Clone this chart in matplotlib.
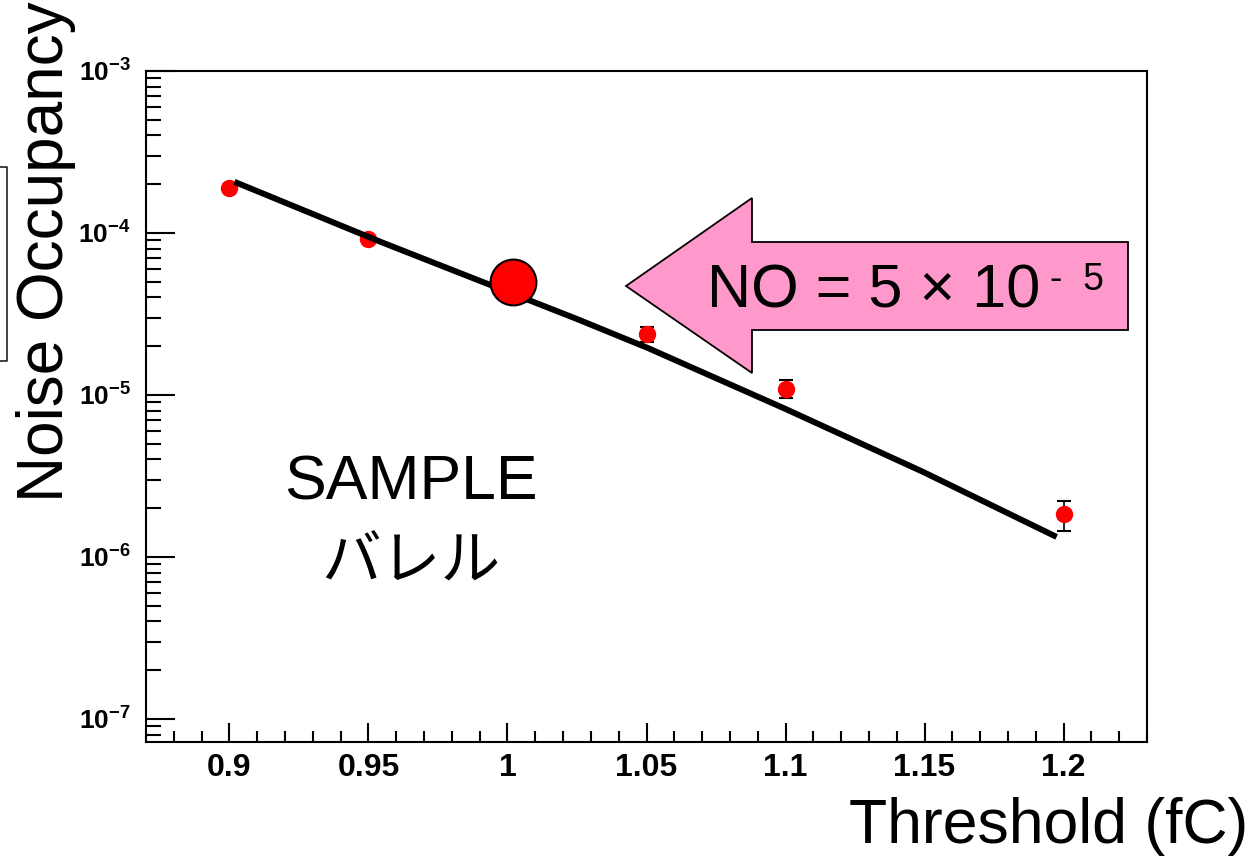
import numpy as np
import matplotlib
matplotlib.use("Agg")
import matplotlib.pyplot as plt
from matplotlib.patches import Polygon
from matplotlib.lines import Line2D
from matplotlib.ticker import FixedLocator, FixedFormatter, LogLocator, MultipleLocator

plt.rcParams.update({
    "font.family": ["Liberation Sans", "DejaVu Sans"],
    "mathtext.fontset": "custom",
    "mathtext.rm": "Liberation Sans",
    "mathtext.bf": "Liberation Sans:bold",
})

PINK, RED = "#FF99CC", "#FF0000"

# measured noise occupancy vs threshold
thr = [0.90, 0.95, 1.05, 1.10, 1.20]
occ = [1.90e-4, 9.18e-5, 2.38e-5, 1.09e-5, 1.84e-6]
occ_lo = [1.82e-4, 8.90e-5, 2.12e-5, 9.58e-6, 1.45e-6]
occ_hi = [1.98e-4, 9.50e-5, 2.63e-5, 1.24e-5, 2.22e-6]

# fit curve
fit_x = [0.9018, 0.9545, 1.0251, 1.0505, 1.100, 1.1495, 1.1975]
fit_y = [2.07e-4, 8.80e-5, 2.94e-5, 1.95e-5, 8.2e-6, 3.35e-6, 1.33e-6]

# operating point
op_x, op_y = 1.002, 5.0e-5

xticks = [0.9, 0.95, 1.0, 1.05, 1.1, 1.15, 1.2]
xticklabels = ["0.9", "0.95", "1", "1.05", "1.1", "1.15", "1.2"]
yticks = [1e-7, 1e-6, 1e-5, 1e-4, 1e-3]
yticklabels = [r"$\mathbf{10^{-7}}$", r"$\mathbf{10^{-6}}$", r"$\mathbf{10^{-5}}$",
               r"$\mathbf{10^{-4}}$", r"$\mathbf{10^{-3}}$"]

W, H = 1258, 857
fig = plt.figure(figsize=(W / 100, H / 100), dpi=100)
ax = fig.add_axes([146 / W, 1 - 742 / H, (1147 - 146) / W, (742 - 71) / H])
ax.set_yscale("log")
ax.set_xlim(0.87, 1.23)
ax.set_ylim(10 ** -7.142, 1e-3)

# fit line
ax.plot(fit_x, fit_y, color="black", lw=4.3, solid_capstyle="butt",
        solid_joinstyle="round", zorder=3)
# data with errors
yerr = [np.array(occ) - np.array(occ_lo), np.array(occ_hi) - np.array(occ)]
ax.errorbar(thr, occ, yerr=yerr, fmt="o", color=RED, ms=11.5, mec=RED,
            ecolor="black", elinewidth=1.2, capsize=5, capthick=1.5, zorder=2)
# operating point
ax.plot([op_x], [op_y], "o", color=RED, ms=33, mec="black", mew=1.5, zorder=5)

for s in ax.spines.values():
    s.set_linewidth(1.5)
ax.xaxis.set_major_locator(FixedLocator(xticks))
ax.xaxis.set_major_formatter(FixedFormatter(xticklabels))
ax.xaxis.set_minor_locator(MultipleLocator(0.01))
ax.yaxis.set_major_locator(FixedLocator(yticks))
ax.yaxis.set_major_formatter(FixedFormatter(yticklabels))
ax.yaxis.set_minor_locator(LogLocator(base=10, subs=np.arange(2, 10), numticks=20))
ax.yaxis.set_minor_formatter(FixedFormatter([]))
ax.tick_params(axis="x", which="major", direction="in", length=14, width=1.5, pad=8,
               labelsize=23)
ax.tick_params(axis="x", which="minor", direction="in", length=8, width=1.5)
ax.tick_params(axis="y", which="major", direction="in", length=21, width=1.5, pad=11,
               labelsize=19)
ax.tick_params(axis="y", which="minor", direction="in", length=11, width=1.5)
for lab in ax.get_xticklabels():
    lab.set_fontweight("bold")

# pink arrow
arrow_px = [(626, 286), (752, 198), (752, 242), (1128, 242), (1128, 330),
            (752, 330), (752, 373)]
arrow = Polygon([(x / W, 1 - y / H) for x, y in arrow_px], closed=True,
                facecolor=PINK, edgecolor="black", lw=1.3, transform=fig.transFigure)
fig.add_artist(arrow)
fig.text(707 / W, 1 - 308 / H, "NO = 5 × 10", fontsize=44, ha="left", va="baseline")
fig.text(1050 / W, 1 - 290 / H, "-  5", fontsize=27, ha="left", va="baseline")

# sample label
fig.text(411 / W, 1 - 500 / H, "SAMPLE", fontsize=45, ha="center", va="baseline")
fig.text(411 / W, 1 - 580 / H, "バレル", fontsize=43, ha="center", va="baseline",
         family=["Noto Sans CJK JP", "DejaVu Sans"])

# axis titles
fig.text(46 / W, 1 - 252 / H, "Noise Occupancy", fontsize=46, rotation=90,
         ha="center", va="center")
fig.text(1248 / W, 1 - 843 / H, "Threshold (fC)", fontsize=45, ha="right",
         va="baseline")

# leftover frame edge at the left border
fig.add_artist(Line2D([0, 7 / W, 7 / W, 0], [1 - 167 / H, 1 - 167 / H, 1 - 361 / H, 1 - 361 / H],
                      color="#222222", lw=1.2, transform=fig.transFigure))

fig.savefig("out.png", dpi=100)
